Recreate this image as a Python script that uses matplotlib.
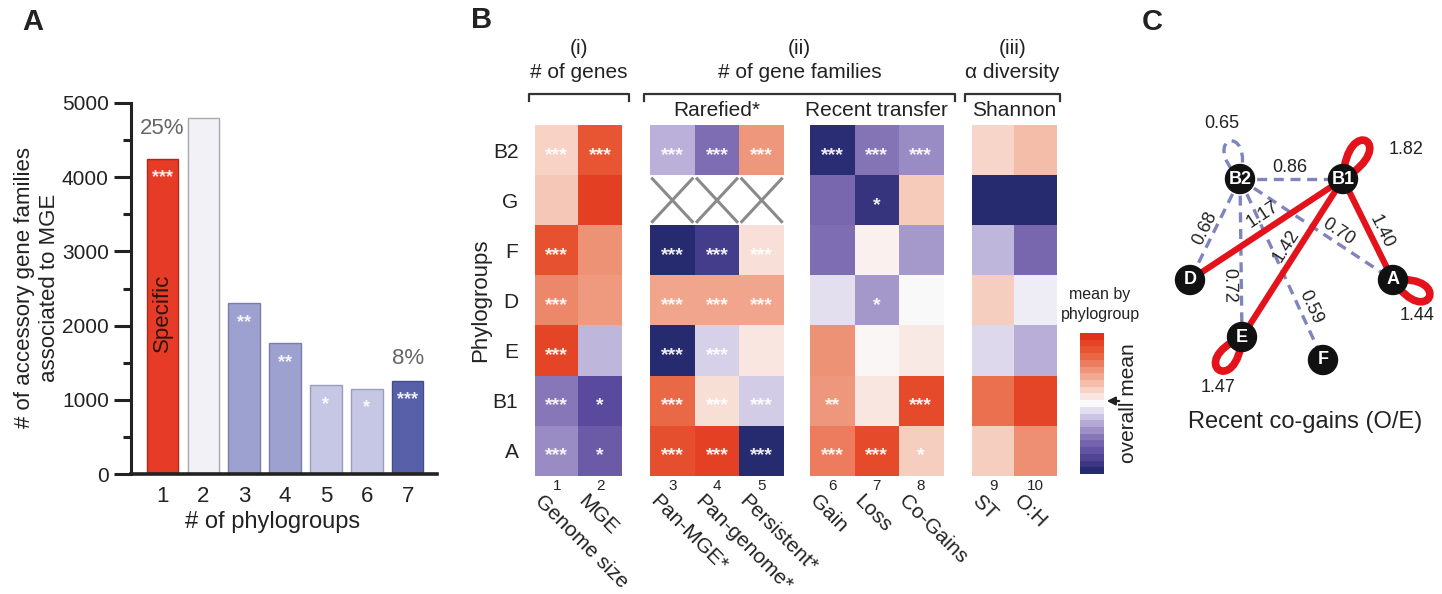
import numpy as np
import matplotlib
matplotlib.use('Agg')
import matplotlib.pyplot as plt
from matplotlib.colors import LinearSegmentedColormap, Normalize
from matplotlib.path import Path
from matplotlib.patches import PathPatch, Circle, FancyArrowPatch
from matplotlib.lines import Line2D
import matplotlib.cm as cm

plt.rcParams['font.family'] = ['Liberation Sans', 'DejaVu Sans']

# ---------------- Panel A data ----------------
n_phylogroups = [1, 2, 3, 4, 5, 6, 7]
mge_gene_families = [4250, 4800, 2300, 1760, 1200, 1150, 1260]
bar_significance = ['***', '', '**', '**', '*', '*', '***']
bar_colors = ['#e63b26', '#f2f2f6', '#9da1cf', '#9da1cf', '#c5c7e4', '#c5c7e4', '#5860aa']
bar_edges = ['#b02a1c', '#a8a8b2', '#7a7eaa', '#7a7eaa', '#9a9cbc', '#9a9cbc', '#454c8c']

# ---------------- Panel B data ----------------
phylogroups = ['B2', 'G', 'F', 'D', 'E', 'B1', 'A']
variables = ['Genome size', 'MGE', 'Pan-MGE*', 'Pan-genome*', 'Persistent*',
             'Gain', 'Loss', 'Co-Gains', 'ST', 'O:H']
nan = np.nan
genome_size = [0.20, 0.25, 0.80, 0.55, 0.88, -0.50, -0.42]
mge = [0.78, 0.92, 0.50, 0.47, -0.25, -0.75, -0.65]
pan_mge = [-0.27, nan, -1.00, 0.42, -1.00, 0.68, 0.82]
pan_genome = [-0.55, nan, -0.85, 0.42, -0.15, 0.14, 0.90]
persistent = [0.48, nan, 0.13, 0.42, 0.10, -0.17, -1.00]
gain = [-0.97, -0.58, -0.55, -0.10, 0.50, 0.48, 0.60]
loss = [-0.52, -0.92, 0.04, -0.37, 0.02, 0.10, 0.85]
co_gains = [-0.42, 0.24, -0.36, 0.00, 0.08, 0.85, 0.22]
shannon_st = [0.18, -1.00, -0.25, 0.22, -0.12, 0.65, 0.22]
shannon_oh = [0.30, -1.00, -0.58, -0.05, -0.28, 0.88, 0.52]

stars_genome_size = ['***', '', '***', '***', '***', '***', '***']
stars_mge = ['***', '', '', '', '', '*', '*']
stars_pan_mge = ['***', '', '***', '***', '***', '***', '***']
stars_pan_genome = ['***', '', '***', '***', '***', '***', '***']
stars_persistent = ['***', '', '***', '***', '', '***', '***']
stars_gain = ['***', '', '', '', '', '**', '***']
stars_loss = ['***', '*', '', '*', '', '', '***']
stars_co_gains = ['***', '', '', '', '', '***', '*']
stars_st = ['', '', '', '', '', '', '']
stars_oh = ['', '', '', '', '', '', '']

subgroup_labels = ['Rarefied*', 'Recent transfer', 'Shannon']

# ---------------- Panel C data ----------------
cogain_edges = [('B2', 'B1', 0.86), ('B2', 'D', 0.68), ('B2', 'E', 0.72),
                ('B2', 'F', 0.59), ('B2', 'A', 0.70), ('B1', 'D', 1.17),
                ('B1', 'E', 1.42), ('B1', 'A', 1.40)]
self_cogains = [('B2', 0.65), ('B1', 1.82), ('A', 1.44), ('E', 1.47)]

# network layout (pixel positions of the drawing)
node_xy = {'B2': (1240, 179), 'B1': (1343, 179), 'D': (1190, 280),
           'A': (1393, 280), 'E': (1242, 337), 'F': (1323, 360)}
edge_label_xy = {('B2', 'B1'): (1290, 167), ('B2', 'D'): (1205, 228),
                 ('B2', 'E'): (1229, 285), ('B2', 'F'): (1311, 307),
                 ('B2', 'A'): (1338, 232), ('B1', 'D'): (1263, 215),
                 ('B1', 'E'): (1286, 246), ('B1', 'A'): (1381, 232)}
loop_dir = {'B2': (-12, -44), 'B1': (27, -44), 'A': (42, 20), 'E': (-27, 38)}
loop_label_xy = {'B2': (1222, 123), 'B1': (1406, 150), 'A': (1417, 315), 'E': (1218, 388)}

# ---------------- figure ----------------
W, H = 1442, 594
fig = plt.figure(figsize=(W / 100, H / 100), dpi=100)


def fx(x):
    return x / W


def fy(y):
    return 1 - y / H


def ax_px(x0, y0, x1, y1):
    return fig.add_axes([fx(x0), fy(y1), fx(x1) - fx(x0), fy(y0) - fy(y1)])


def T(x, y, s, **kw):
    kw.setdefault('ha', 'center')
    kw.setdefault('va', 'center')
    return fig.text(fx(x), fy(y), s, **kw)


TXT = '#222222'

# ======== Panel A ========
axA = ax_px(131, 103, 437, 474)
xs = np.array(n_phylogroups)
axA.bar(xs, mge_gene_families, width=0.76, color=bar_colors,
        edgecolor=bar_edges, linewidth=1.0, zorder=2)
axA.set_xlim(0.24, 7.71)
axA.set_ylim(0, 5000)
axA.spines['top'].set_visible(False)
axA.spines['right'].set_visible(False)
axA.spines['left'].set_linewidth(2.2)
axA.spines['bottom'].set_linewidth(2.6)
axA.spines['left'].set_color(TXT)
axA.spines['bottom'].set_color(TXT)
axA.set_yticks([0, 1000, 2000, 3000, 4000, 5000])
axA.set_yticks([500, 1500, 2500, 3500, 4500], minor=True)
axA.tick_params(axis='y', which='major', length=12, width=2.2, labelsize=15,
                pad=4, colors=TXT)
axA.tick_params(axis='y', which='minor', length=6, width=2.2, colors=TXT)
axA.set_xticks(xs)
axA.tick_params(axis='x', length=0, labelsize=16, pad=9, colors=TXT)
for x, v, s in zip(xs, mge_gene_families, bar_significance):
    if s:
        axA.text(x, v - 260, s, ha='center', va='center', color='white',
                 fontsize=13, fontweight='bold', alpha=0.9)
axA.text(xs[0], 4650, '25%', ha='center', va='center', fontsize=16, color='#666666')
axA.text(xs[6], 1550, '8%', ha='center', va='center', fontsize=16, color='#666666')
axA.text(xs[0], 2170, 'Specific', ha='center', va='center', rotation=90,
         fontsize=16, color='#2a1410')
T(273, 522, '# of phylogroups', fontsize=17, color=TXT)
T(37, 288, '# of accessory gene families\nassociated to MGE', rotation=90,
  fontsize=16, color=TXT, linespacing=1.2, multialignment='center')

# ======== Panel B ========
cmap = LinearSegmentedColormap.from_list('divmge', [
    (0.0, '#262a6f'), (0.125, '#5a4a9e'), (0.25, '#8877b8'), (0.375, '#bfb6dc'),
    (0.5, '#fbfafb'), (0.625, '#f6c9b8'), (0.75, '#ef9478'), (0.875, '#e85a36'),
    (1.0, '#e2331a')])
cmap.set_bad('white')
norm = Normalize(-1, 1)

heat = np.array([genome_size, mge, pan_mge, pan_genome, persistent,
                 gain, loss, co_gains, shannon_st, shannon_oh]).T
stars = np.array([stars_genome_size, stars_mge, stars_pan_mge, stars_pan_genome,
                  stars_persistent, stars_gain, stars_loss, stars_co_gains,
                  stars_st, stars_oh]).T
n_rows = len(phylogroups)

blocks = [(0, 2, 535, 622), (2, 5, 650, 784), (5, 8, 810, 943), (8, 10, 972, 1057)]
for bi, (c0, c1, x0, x1) in enumerate(blocks):
    ax = ax_px(x0, 125, x1, 476)
    sub = heat[:, c0:c1]
    nc = c1 - c0
    ax.imshow(np.ma.masked_invalid(sub), cmap=cmap, norm=norm, aspect='auto',
              interpolation='nearest', extent=(-0.5, nc - 0.5, n_rows - 0.5, -0.5))
    ax.set_xlim(-0.5, nc - 0.5)
    ax.set_ylim(n_rows - 0.5, -0.5)
    for sp in ax.spines.values():
        sp.set_visible(False)
    ax.set_xticks([])
    if bi == 0:
        ax.set_yticks(range(n_rows))
        ax.set_yticklabels(phylogroups)
        ax.tick_params(axis='y', length=0, labelsize=15, pad=12, colors=TXT)
    else:
        ax.set_yticks([])
    for j in range(nc):
        col = c0 + j
        ax.text(j, n_rows - 0.5 + 0.19, str(col + 1), ha='center', va='center',
                fontsize=11, color=TXT, clip_on=False)
        ax.text(j - 0.28, n_rows - 0.5 + 0.31, variables[col], rotation=-45,
                rotation_mode='anchor', ha='left', va='top', fontsize=15,
                color=TXT, clip_on=False)
        for i in range(n_rows):
            if np.isnan(sub[i, j]):
                ax.plot([j - 0.47, j + 0.47], [i - 0.45, i + 0.45], color='#8a8a8a',
                        lw=2.2, solid_capstyle='butt')
                ax.plot([j - 0.47, j + 0.47], [i + 0.45, i - 0.45], color='#8a8a8a',
                        lw=2.2, solid_capstyle='butt')
            elif stars[i, col]:
                ax.text(j, i + 0.1, stars[i, col], ha='center', va='center',
                        color='white', fontsize=14, fontweight='bold', alpha=0.92)

T(481, 300, 'Phylogroups', rotation=90, fontsize=16, color=TXT)

# group headers and brackets
headers = [((529, 629), '(i)', '# of genes'),
           ((644, 955), '(ii)', '# of gene families'),
           ((965, 1060), '(iii)', '\u03b1 diversity')]
for (xa, xb), top, bottom in headers:
    xm = (xa + xb) / 2
    T(xm, 48, top, fontsize=15, color=TXT)
    T(xm, 73, bottom, fontsize=15, color=TXT)
    fig.add_artist(Line2D([fx(xa), fx(xa), fx(xb), fx(xb)],
                          [fy(101), fy(94), fy(94), fy(101)],
                          transform=fig.transFigure, color='#333333', lw=1.6))
T(717, 111, subgroup_labels[0], fontsize=15, color=TXT)
T(876, 111, subgroup_labels[1], fontsize=15, color=TXT)
T(1014, 111, subgroup_labels[2], fontsize=15, color=TXT)

# colorbar
ax_cb = ax_px(1080, 333, 1104, 474)
cb = fig.colorbar(cm.ScalarMappable(norm=norm, cmap=cmap.resampled(21)), cax=ax_cb)
cb.outline.set_visible(False)
cb.set_ticks([])
T(1100, 295, 'mean by', fontsize=11.5, color=TXT)
T(1100, 315, 'phylogroup', fontsize=11.5, color=TXT)
T(1129, 403, 'overall mean', rotation=90, fontsize=15, color=TXT)
fig.add_artist(FancyArrowPatch(posA=(fx(1122), fy(401)), posB=(fx(1104), fy(401)),
                               transform=fig.transFigure, arrowstyle='-|>',
                               mutation_scale=12, lw=1.6, color=TXT))

# ======== Panel C ========
axC = ax_px(1150, 100, 1442, 460)
axC.set_xlim(1150, 1442)
axC.set_ylim(460, 100)
axC.axis('off')

RED = '#e3121b'
BLUE = '#7f84bd'
for a, b, w in cogain_edges:
    (xa, ya), (xb, yb) = node_xy[a], node_xy[b]
    if w > 1:
        axC.plot([xa, xb], [ya, yb], color=RED, lw=4.5, solid_capstyle='round', zorder=2)
    else:
        axC.plot([xa, xb], [ya, yb], color=BLUE, lw=2.4, ls=(0, (3, 2)), zorder=1)
    ang = np.degrees(np.arctan2(-(yb - ya), xb - xa))
    if ang > 90:
        ang -= 180
    elif ang <= -90:
        ang += 180
    lx, ly = edge_label_xy[(a, b)]
    axC.text(lx, ly, f'{w:.2f}', rotation=ang, rotation_mode='anchor',
             ha='center', va='center', fontsize=13, color=TXT, zorder=5)

for n, w in self_cogains:
    cx, cy = node_xy[n]
    d = np.array(loop_dir[n], dtype=float)
    L = np.hypot(*d)
    u = d / L
    perp = np.array([-u[1], u[0]])
    c = np.array([cx, cy])
    if w > 1:
        ww, k = 32, 1.15
    else:
        ww, k = 30, 1.15
    p1 = c + k * d + perp * ww
    p2 = c + k * d - perp * ww
    path = Path([c, p1, p2, c], [Path.MOVETO, Path.CURVE4, Path.CURVE4, Path.CURVE4])
    if w > 1:
        patch = PathPatch(path, fill=False, edgecolor=RED, lw=5.5, zorder=2,
                          joinstyle='round')
    else:
        patch = PathPatch(path, fill=False, edgecolor=BLUE, lw=2.4, ls=(0, (3, 2)), zorder=1)
    axC.add_patch(patch)
    lx, ly = loop_label_xy[n]
    axC.text(lx, ly, f'{w:.2f}', ha='center', va='center', fontsize=13, color=TXT)

for n, (x, y) in node_xy.items():
    axC.add_patch(Circle((x, y), 14.5, facecolor='#111111', edgecolor='#111111', zorder=6))
    axC.text(x, y, n, ha='center', va='center', color='white', fontsize=13,
             fontweight='bold', zorder=7)

T(1305, 422, 'Recent co-gains (O/E)', fontsize=17, color=TXT)

# panel letters
T(33, 22, 'A', fontsize=21, fontweight='bold', color=TXT)
T(482, 20, 'B', fontsize=21, fontweight='bold', color=TXT)
T(1152, 22, 'C', fontsize=21, fontweight='bold', color=TXT)

fig.savefig('out.png', dpi=100)
